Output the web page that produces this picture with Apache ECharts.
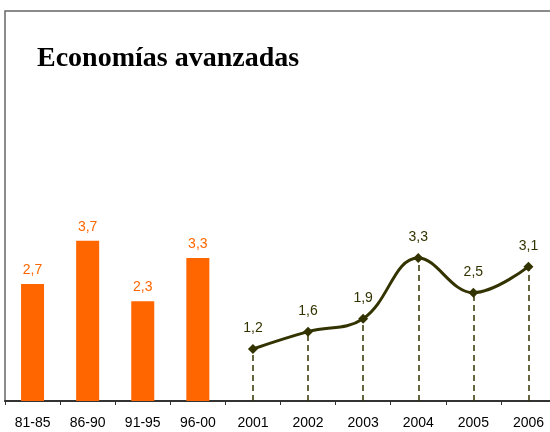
<!DOCTYPE html>
<html>
<head>
<meta charset="utf-8">
<script src="https://cdn.jsdelivr.net/npm/echarts@6/dist/echarts.min.js"></script>
<style>
  html, body { margin: 0; padding: 0; background: #fff; }
  #chart { width: 550px; height: 432px; }
</style>
</head>
<body>
<div id="chart"></div>
<script>
// categorías del eje x
var categories = ['81-85', '86-90', '91-95', '96-00', '2001', '2002', '2003', '2004', '2005', '2006'];
// promedios por periodo (barras)
var barValues = [2.7, 3.7, 2.3, 3.3, '-', '-', '-', '-', '-', '-'];
// años (línea)
var lineValues = ['-', '-', '-', '-', 1.2, 1.6, 1.9, 3.3, 2.5, 3.1];

var orange = '#FF6600';
var olive = '#333300';

function fmt(p) {
  return String(p.value).replace('.', ',');
}

// líneas verticales punteadas desde cada punto hasta el eje
var dropLines = [];
lineValues.forEach(function (v, i) {
  if (v !== '-') {
    dropLines.push([{ coord: [i, 0] }, { coord: [i, v] }]);
  }
});

var chart = echarts.init(document.getElementById('chart'));
var option = {
  animation: false,
  title: {
    text: 'Economías avanzadas',
    left: 32,
    top: 40,
    textStyle: {
      fontFamily: 'Liberation Serif',
      fontWeight: 'bold',
      fontSize: 28,
      color: '#000'
    }
  },
  grid: {
    left: 5,
    top: 11,
    width: 551,
    bottom: 31,
    outerBoundsMode: 'none',
    show: true,
    borderColor: '#666',
    borderWidth: 1.5
  },
  xAxis: {
    type: 'category',
    data: categories,
    axisLine: { lineStyle: { color: '#333', width: 2 } },
    axisTick: { show: true, length: 4, lineStyle: { color: '#333' } },
    axisLabel: {
      interval: 0,
      color: '#000',
      fontFamily: 'Liberation Sans',
      fontSize: 14,
      margin: 15
    }
  },
  yAxis: {
    type: 'value',
    min: 0,
    max: 9,
    show: false,
    splitLine: { show: false }
  },
  series: [
    {
      type: 'bar',
      data: barValues,
      barWidth: 23,
      itemStyle: { color: orange },
      label: {
        show: true,
        position: 'top',
        distance: 7,
        color: orange,
        fontFamily: 'Liberation Sans',
        fontSize: 14,
        formatter: fmt
      }
    },
    {
      type: 'line',
      data: lineValues,
      smooth: 0.4,
      symbol: 'diamond',
      symbolSize: 10,
      lineStyle: { color: olive, width: 3 },
      itemStyle: { color: olive },
      label: {
        show: true,
        position: 'top',
        distance: 9,
        color: olive,
        fontFamily: 'Liberation Sans',
        fontSize: 14,
        formatter: fmt
      },
      markLine: {
        silent: true,
        symbol: 'none',
        label: { show: false },
        lineStyle: { color: olive, type: [6, 4], width: 1.5 },
        data: dropLines
      }
    }
  ]
};
chart.setOption(option);
</script>
</body>
</html>
